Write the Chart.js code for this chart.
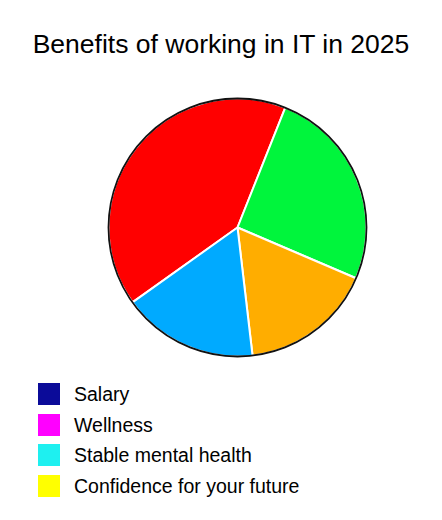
<!DOCTYPE html>
<html>
<head>
<meta charset="utf-8">
<script src="https://cdn.jsdelivr.net/npm/chart.js@4/dist/chart.umd.min.js"></script>
<style>
    html, body { margin: 0; padding: 0; background: #fff; }
    body { width: 442px; height: 520px; position: relative; overflow: hidden; font-family: "Liberation Sans", Arial, sans-serif; }
    #title { position: absolute; top: 29px; left: 0; width: 442px; text-align: center; font-size: 26.5px; color: #000; line-height: 30px; }
    #pie-wrap { position: absolute; left: 0; top: 0; width: 442px; height: 380px; }
    #legend { position: absolute; left: 38px; top: 383px; }
    .legend-item { height: 30.5px; display: flex; align-items: flex-start; }
    .legend-box { width: 22px; height: 22px; margin-right: 14px; }
    .legend-text { font-size: 19.5px; line-height: 22px; color: #000; }
</style>
</head>
<body>
<div id="title">Benefits of working in IT in 2025</div>
<div id="pie-wrap"><canvas id="pieChart"></canvas></div>
<div id="legend"></div>

<script>
// categories as listed in the legend
const labels = ['Salary', 'Wellness', 'Stable mental health', 'Confidence for your future'];
// slice shares (percent)
const values = [40.9, 25.4, 16.7, 17.0];
// the slices are painted in colours that don't match the legend
const sliceColors = ['#ff0000', '#00f53c', '#ffad00', '#00aaff'];
const legendColors = ['#0b0b99', '#ff00ff', '#1ef0f0', '#ffff00'];

// thin black rim around the pie
const outerRim = {
    id: 'outerRim',
    afterDatasetsDraw(chart) {
        const arc = chart.getDatasetMeta(0).data[0];
        if (!arc) return;
        const ctx = chart.ctx;
        ctx.save();
        ctx.beginPath();
        ctx.arc(arc.x, arc.y, arc.outerRadius, 0, Math.PI * 2);
        ctx.lineWidth = 1.8;
        ctx.strokeStyle = '#111';
        ctx.stroke();
        ctx.restore();
    }
};

const pieChart = new Chart(document.getElementById('pieChart').getContext('2d'), {
    type: 'pie',
    data: {
        labels: labels,
        datasets: [{
            data: values,
            backgroundColor: sliceColors,
            borderColor: '#ffffff',
            borderWidth: 2
        }]
    },
    options: {
        responsive: true,
        maintainAspectRatio: false,
        animation: false,
        rotation: 234.5,
        layout: { padding: { left: 107.5, right: 74.5, top: 97.5, bottom: 22.5 } },
        plugins: {
            legend: { display: false },
            title: { display: false },
            tooltip: { enabled: false }
        }
    },
    plugins: [outerRim]
});

// legend list below the pie
const legendEl = document.getElementById('legend');
labels.forEach((label, i) => {
    legendEl.innerHTML += `
        <div class="legend-item">
            <div class="legend-box" style="background:${legendColors[i]}"></div>
            <div class="legend-text">${label}</div>
        </div>`;
});
</script>
</body>
</html>
